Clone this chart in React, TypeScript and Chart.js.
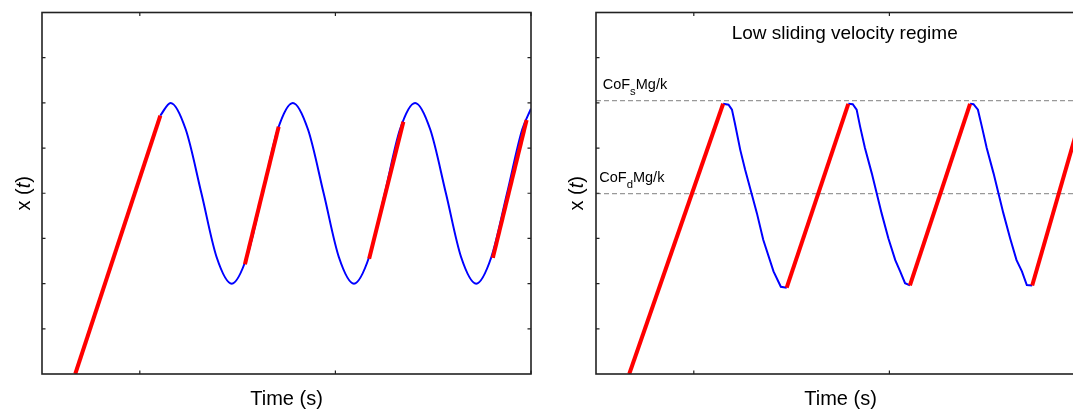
import React, { useEffect, useRef } from "react";
import { Chart, registerables } from "chart.js";

Chart.register(...registerables);

type Pt = [number, number];

// Shared axis ranges (arbitrary units) and inward tick positions
const timeRange: Pt = [0, 10];
const posRange: Pt = [0, 8];
const timeTicks = [2, 6, 10];
const posTicks = [1, 2, 3, 4, 5, 6, 7];

// Left panel: smooth oscillation of the block
const leftSlipTime = [
  2.42, 2.63, 2.94, 3.26, 3.57, 3.88, 4.19, 4.51, 4.82, 5.13, 5.44, 5.76, 6.07,
  6.38, 6.69, 7.01, 7.32, 7.63, 7.94, 8.26, 8.57, 8.88, 9.19, 9.51, 9.82, 10.0,
];
const leftSlipPos = [
  5.72, 6.0, 5.41, 4.0, 2.59, 2.0, 2.59, 4.0, 5.41, 6.0, 5.41, 4.0, 2.59,
  2.0, 2.59, 4.0, 5.41, 6.0, 5.41, 4.0, 2.59, 2.0, 2.59, 4.0, 5.41, 5.87,
];
// Left panel: straight (constant velocity) stretches
const leftStick: Pt[][] = [
  [[0.68, 0], [2.42, 5.72]],
  [[4.15, 2.43], [4.84, 5.47]],
  [[6.69, 2.55], [7.39, 5.58]],
  [[9.22, 2.57], [9.91, 5.62]],
];

// Right panel: stick phases (block carried by the belt)
const rightStick: Pt[][] = [
  [[0.68, 0], [2.6, 5.98]],
  [[3.9, 1.91], [5.16, 5.98]],
  [[6.42, 1.96], [7.65, 5.98]],
  [[8.92, 1.96], [10.0, 6.0]],
];
// Right panel: slip phases
const rightSlip: Pt[][] = [
  [[2.6, 5.98], [2.71, 5.96], [2.78, 5.85], [2.84, 5.55], [2.95, 4.96], [3.05, 4.52],
   [3.18, 4.0], [3.29, 3.56], [3.42, 2.97], [3.63, 2.27], [3.78, 1.93], [3.9, 1.91]],
  [[5.16, 5.98], [5.25, 5.97], [5.33, 5.85], [5.4, 5.48], [5.5, 5.0], [5.64, 4.44],
   [5.74, 4.0], [5.84, 3.56], [5.98, 3.0], [6.12, 2.52], [6.22, 2.27], [6.32, 2.01], [6.42, 1.96]],
  [[7.65, 5.98], [7.72, 5.97], [7.81, 5.85], [7.89, 5.48], [7.99, 5.0], [8.13, 4.44],
   [8.23, 4.0], [8.33, 3.56], [8.47, 3.0], [8.6, 2.52], [8.71, 2.27], [8.81, 1.97], [8.92, 1.96]],
];
// Static and dynamic friction thresholds
const staticLevel = 6.05;
const dynamicLevel = 3.99;

const FONT = '"Liberation Sans", Arial, Helvetica, sans-serif';
const STICK_COLOR = "#ff0000";
const SLIP_COLOR = "#0000ff";

const toPoints = (pts: Pt[]) => pts.map(([x, y]) => ({ x, y }));

function stickDatasets(segs: Pt[][]) {
  return segs.map((s) => ({
    data: toPoints(s),
    borderColor: STICK_COLOR,
    borderWidth: 4,
    pointRadius: 0,
    order: 0,
  }));
}

type Decor = {
  yLabelX: number;
  title?: { text: string; x: number; y: number };
  thresholds?: { main: string; sub: string; rest: string; x: number; y: number }[];
};

function drawSubLabel(
  ctx: CanvasRenderingContext2D,
  x: number,
  y: number,
  main: string,
  sub: string,
  rest: string,
  size: number
) {
  ctx.textAlign = "left";
  ctx.textBaseline = "alphabetic";
  ctx.font = `${size}px ${FONT}`;
  ctx.fillText(main, x, y);
  let cx = x + ctx.measureText(main).width;
  ctx.font = `${size * 0.78}px ${FONT}`;
  ctx.fillText(sub, cx, y + size * 0.42);
  cx += ctx.measureText(sub).width;
  ctx.font = `${size}px ${FONT}`;
  ctx.fillText(rest, cx, y);
}

function framePlugin(decor: Decor) {
  return {
    id: "frameDecor",
    afterDraw(chart: any) {
      const { ctx, chartArea: a, scales } = chart;
      ctx.save();
      // frame
      ctx.strokeStyle = "#222";
      ctx.lineWidth = 1.6;
      ctx.strokeRect(a.left, a.top, a.right - a.left, a.bottom - a.top);
      // inward ticks
      ctx.lineWidth = 1.2;
      ctx.beginPath();
      const tl = 3.5;
      posTicks.forEach((v) => {
        const y = scales.y.getPixelForValue(v);
        ctx.moveTo(a.left, y);
        ctx.lineTo(a.left + tl, y);
        ctx.moveTo(a.right, y);
        ctx.lineTo(a.right - tl, y);
      });
      timeTicks.forEach((v) => {
        const x = scales.x.getPixelForValue(v);
        ctx.moveTo(x, a.top);
        ctx.lineTo(x, a.top + tl);
        ctx.moveTo(x, a.bottom);
        ctx.lineTo(x, a.bottom - tl);
      });
      ctx.stroke();

      ctx.fillStyle = "#000";
      // x-axis title
      ctx.font = `20px ${FONT}`;
      ctx.textAlign = "center";
      ctx.textBaseline = "alphabetic";
      ctx.fillText("Time (s)", (a.left + a.right) / 2, 404.5);

      // y-axis title: x (t) with italic t
      ctx.save();
      ctx.translate(decor.yLabelX, (a.top + a.bottom) / 2);
      ctx.rotate(-Math.PI / 2);
      ctx.textAlign = "left";
      const reg = `20px ${FONT}`;
      const ita = `italic 20px ${FONT}`;
      const parts: [string, string][] = [["x (", reg], ["t", ita], [")", reg]];
      let total = 0;
      parts.forEach(([t, f]) => {
        ctx.font = f;
        total += ctx.measureText(t).width;
      });
      let cx = -total / 2;
      parts.forEach(([t, f]) => {
        ctx.font = f;
        ctx.fillText(t, cx, 0);
        cx += ctx.measureText(t).width;
      });
      ctx.restore();

      if (decor.title) {
        ctx.font = `19px ${FONT}`;
        ctx.textAlign = "center";
        ctx.fillText(decor.title.text, decor.title.x, decor.title.y);
      }
      (decor.thresholds || []).forEach((t) =>
        drawSubLabel(ctx, t.x, t.y, t.main, t.sub, t.rest, 14.5)
      );
      ctx.restore();
    },
  };
}

function baseOptions(padding: any) {
  return {
    responsive: false,
    animation: false as const,
    events: [],
    layout: { padding },
    plugins: { legend: { display: false }, tooltip: { enabled: false } },
    scales: {
      x: { type: "linear" as const, min: timeRange[0], max: timeRange[1], display: false },
      y: { type: "linear" as const, min: posRange[0], max: posRange[1], display: false },
    },
  };
}

export default function App() {
  const leftRef = useRef<HTMLCanvasElement>(null);
  const rightRef = useRef<HTMLCanvasElement>(null);

  useEffect(() => {
    const left = new Chart(leftRef.current!, {
      type: "line",
      data: {
        datasets: [
          ...stickDatasets(leftStick),
          {
            data: leftSlipTime.map((x, i) => ({ x, y: leftSlipPos[i] })),
            borderColor: SLIP_COLOR,
            borderWidth: 2,
            pointRadius: 0,
            cubicInterpolationMode: "monotone",
            order: 1,
          },
        ],
      } as any,
      options: baseOptions({ left: 42, top: 12.5, right: 29, bottom: 38 }) as any,
      plugins: [framePlugin({ yLabelX: 29.5 })],
    });

    const right = new Chart(rightRef.current!, {
      type: "line",
      data: {
        datasets: [
          ...stickDatasets(rightStick),
          ...rightSlip.map((s) => ({
            data: toPoints(s),
            borderColor: SLIP_COLOR,
            borderWidth: 2,
            pointRadius: 0,
            tension: 0,
            order: 1,
          })),
          ...[staticLevel, dynamicLevel].map((lvl) => ({
            data: toPoints([[timeRange[0], lvl], [timeRange[1], lvl]]),
            borderColor: "#999",
            borderWidth: 1.2,
            borderDash: [5, 3],
            pointRadius: 0,
            order: 2,
          })),
        ],
      } as any,
      options: baseOptions({ left: 36, top: 12.5, right: 35, bottom: 38 }) as any,
      plugins: [
        framePlugin({
          yLabelX: 22.5,
          title: { text: "Low sliding velocity regime", x: 284.7, y: 38.7 },
          thresholds: [
            { main: "CoF", sub: "s", rest: "Mg/k", x: 42.7, y: 89 },
            { main: "CoF", sub: "d", rest: "Mg/k", x: 39.3, y: 182.3 },
          ],
        }),
      ],
    });

    return () => {
      left.destroy();
      right.destroy();
    };
  }, []);

  return (
    <div
      style={{
        position: "fixed",
        left: 0,
        top: 0,
        width: 1073,
        height: 412,
        overflow: "hidden",
        background: "#fff",
      }}
    >
      <canvas
        ref={leftRef}
        width={560}
        height={412}
        style={{ position: "absolute", left: 0, top: 0, width: 560, height: 412 }}
      />
      <canvas
        ref={rightRef}
        width={560}
        height={412}
        style={{ position: "absolute", left: 560, top: 0, width: 560, height: 412 }}
      />
    </div>
  );
}
